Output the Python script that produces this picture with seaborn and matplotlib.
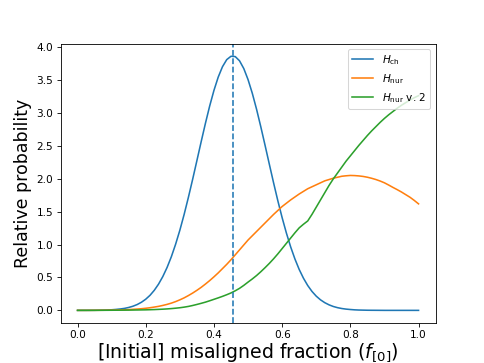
import numpy as np
import pandas as pd
import seaborn as sns
import matplotlib
matplotlib.use('Agg')
import matplotlib.pyplot as plt

# misaligned fraction grid, step 0.0125
frac = np.linspace(0, 1, 81)

# values, one row per 0.1 in fraction
h_ch = [0.0, 0.0003, 0.0005, 0.0009, 0.0015, 0.0025, 0.004, 0.006,
        0.009, 0.014, 0.021, 0.030, 0.044, 0.063, 0.089, 0.124,
        0.170, 0.229, 0.305, 0.399, 0.514, 0.652, 0.815, 1.005,
        1.219, 1.458, 1.718, 1.993, 2.278, 2.565, 2.845, 3.109,
        3.346, 3.548, 3.706, 3.814, 3.865, 3.860, 3.796, 3.678,
        3.510, 3.301, 3.058, 2.790, 2.508, 2.221, 1.937, 1.664,
        1.409, 1.175, 0.965, 0.781, 0.622, 0.489, 0.378, 0.288,
        0.216, 0.160, 0.117, 0.084, 0.059, 0.041, 0.028, 0.019,
        0.013, 0.008, 0.005, 0.0035, 0.002, 0.0014, 0.001, 0.0005,
        0.0, 0.0, 0.0, 0.0, 0.0, 0.0, 0.0, 0.0,
        0.0]

h_nur = [0.0, 0.0, 0.0, 0.0005, 0.001, 0.0015, 0.002, 0.003,
         0.004, 0.0055, 0.007, 0.009, 0.012, 0.016, 0.02, 0.025,
         0.032, 0.04, 0.05, 0.061, 0.075, 0.091, 0.11, 0.133,
         0.16, 0.19, 0.225, 0.263, 0.305, 0.35, 0.4, 0.453,
         0.51, 0.57, 0.635, 0.70, 0.77, 0.845, 0.92, 0.995,
         1.07, 1.135, 1.2, 1.265, 1.33, 1.395, 1.46, 1.52,
         1.58, 1.63, 1.68, 1.725, 1.77, 1.81, 1.85, 1.88,
         1.91, 1.94, 1.97, 1.99, 2.01, 2.025, 2.04, 2.047,
         2.052, 2.05, 2.045, 2.037, 2.025, 2.009, 1.99, 1.967,
         1.94, 1.906, 1.87, 1.836, 1.8, 1.76, 1.72, 1.672,
         1.62]

h_nur2 = [0.0, 0.0, 0.0, 0.0, 0.0, 0.0005, 0.001, 0.0015,
          0.002, 0.0025, 0.003, 0.0035, 0.004, 0.005, 0.006, 0.007,
          0.008, 0.01, 0.012, 0.015, 0.018, 0.022, 0.027, 0.033,
          0.04, 0.049, 0.06, 0.074, 0.09, 0.107, 0.125, 0.146,
          0.168, 0.19, 0.213, 0.238, 0.265, 0.298, 0.335, 0.38,
          0.43, 0.478, 0.53, 0.588, 0.65, 0.715, 0.785, 0.86,
          0.94, 1.02, 1.1, 1.18, 1.255, 1.31, 1.36, 1.46,
          1.57, 1.68, 1.79, 1.9, 2.0, 2.09, 2.18, 2.27,
          2.35, 2.43, 2.51, 2.585, 2.66, 2.73, 2.795, 2.86,
          2.92, 2.975, 3.025, 3.075, 3.12, 3.16, 3.2, 3.235,
          3.265]

peak_frac = 0.455

df = pd.DataFrame({'frac': frac, 'ch': h_ch, 'nur': h_nur, 'nur2': h_nur2})

fig, ax = plt.subplots(figsize=(6.4, 4.8), dpi=75.625)
sns.lineplot(data=df, x='frac', y='ch', ax=ax, color='C0', label=r'$H_{\rm ch}$')
sns.lineplot(data=df, x='frac', y='nur', ax=ax, color='C1', label=r'$H_{\rm nur}$')
sns.lineplot(data=df, x='frac', y='nur2', ax=ax, color='C2', label=r'$H_{\rm nur}$ v. 2')
ax.axvline(peak_frac, color='C0', linestyle='--')

ax.set_xlabel(r'[Initial] misaligned fraction ($f_{[0]}$)', fontsize=18, labelpad=1)
ax.set_ylabel('Relative probability', fontsize=16.5)
ax.legend(loc='upper right')

plt.savefig('out.png')
